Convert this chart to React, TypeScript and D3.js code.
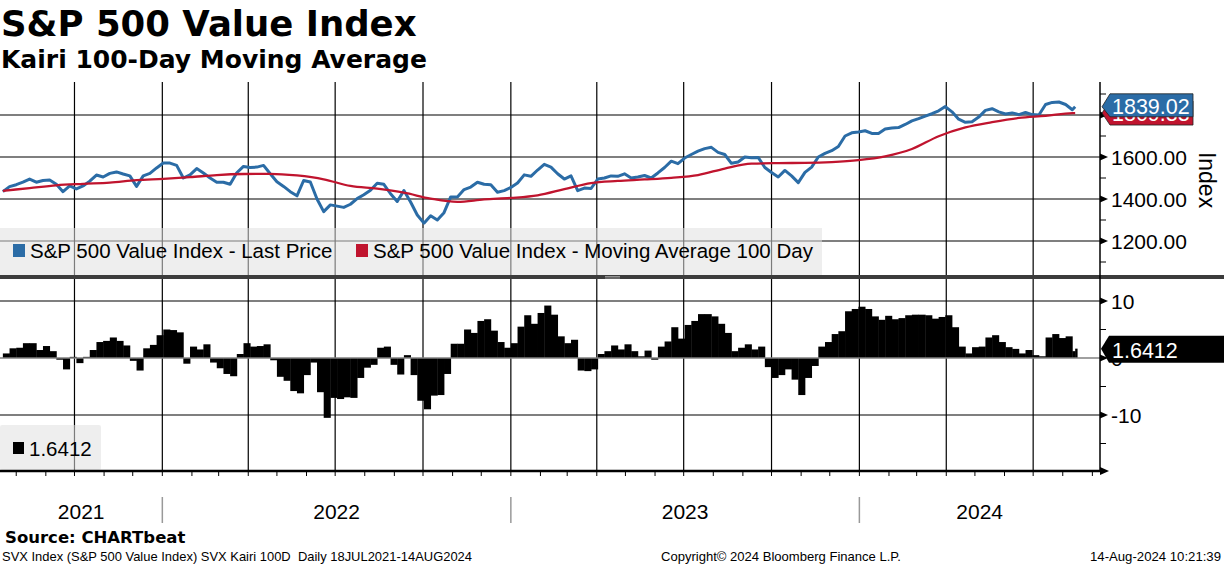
import * as d3 from 'd3';

// weekly samples starting 18 Jul 2021, plus the last print on 14 Aug 2024
const startDate = new Date(2021, 6, 18);
const lastDate = new Date(2024, 7, 14);

const priceWeekly = [
  1435, 1459, 1468, 1480, 1495, 1480, 1488, 1490, 1470, 1435,
  1462, 1448, 1462, 1485, 1514, 1505, 1522, 1529, 1519, 1510,
  1460, 1510, 1522, 1548, 1571, 1571, 1560, 1500, 1515, 1545,
  1524, 1500, 1480, 1480, 1470, 1525, 1555, 1550, 1552, 1560,
  1520, 1482, 1460, 1435, 1415, 1488, 1481, 1400, 1340, 1372,
  1366, 1360, 1375, 1402, 1420, 1442, 1475, 1470, 1425, 1388,
  1440, 1386, 1324, 1285, 1320, 1300, 1335, 1410, 1410, 1445,
  1457, 1480, 1470, 1468, 1432, 1440, 1455, 1476, 1515, 1508,
  1538, 1565, 1552, 1520, 1495, 1510, 1440, 1452, 1450, 1495,
  1500, 1510, 1508, 1520, 1500, 1505, 1512, 1500, 1524, 1550,
  1580, 1568, 1595, 1612, 1628, 1640, 1646, 1622, 1612, 1570,
  1576, 1600, 1596, 1598, 1550, 1526, 1505, 1536, 1510, 1478,
  1527, 1552, 1600, 1617, 1630, 1650, 1700, 1715, 1719, 1725,
  1712, 1712, 1733, 1738, 1740, 1755, 1772, 1783, 1795, 1806,
  1820, 1840, 1815, 1780, 1765, 1768, 1790, 1822, 1830, 1815,
  1805, 1810, 1802, 1812, 1802, 1800, 1850, 1860, 1862, 1850,
  1825,
];

// moving average, one value every 4 weeks
const ma4Weekly = [
  1439, 1452, 1465, 1472, 1478, 1490, 1496, 1504, 1514, 1519,
  1520, 1512, 1494, 1462, 1449, 1430, 1402, 1386, 1398, 1405,
  1417, 1447, 1476, 1486, 1493, 1501, 1514, 1545, 1568, 1571,
  1572, 1576, 1585, 1603, 1638, 1699, 1741, 1766, 1786, 1796,
  1809,
];

const kairiWeekly = [
  0.8, 1.7, 1.8, 2.6, 2.6, 1.4, 2.1, 1.2, -0.3, -2.0,
  0.2, -0.9, 0.2, 1.4, 2.8, 3.0, 3.6, 3.0, 2.2, -0.5,
  -2.2, 1.7, 2.3, 4.0, 5.0, 4.9, 4.5, -1.0, 2.0, 1.5,
  2.4, -0.8, -1.8, -2.8, -3.2, 0.7, 2.6, 2.0, 2.1, 2.4,
  -0.4, -3.3, -4.0, -5.8, -6.2, -3.0, -0.8, -6.0, -10.5, -7.0,
  -7.2, -6.9, -7.0, -3.5, -1.7, -1.2, 1.8, 2.0, -1.2, -2.9,
  0.5, -3.0, -7.5, -9.0, -6.6, -6.5, -2.8, 2.5, 2.5, 5.0,
  4.4, 6.5, 6.8, 4.8, 2.8, 1.8, 2.6, 5.5, 7.5, 6.0,
  7.9, 9.2, 7.6, 3.8, 2.6, 3.2, -2.2, -2.3, -2.0, 0.7,
  1.2, 2.2, 1.5, 2.4, 1.2, 0.3, 1.3, -0.3, 2.0, 2.9,
  5.4, 3.4, 5.8, 6.5, 7.7, 7.7, 7.3, 6.0, 4.4, 1.2,
  1.8, 2.4, 1.5, 2.0, -1.6, -3.5, -3.0, -2.0, -3.8, -6.5,
  -3.5, -1.4, 2.0, 2.8, 4.2, 4.7, 8.2, 8.6, 9.0, 8.6,
  7.3, 6.7, 7.4, 6.8, 7.0, 7.5, 7.6, 7.6, 7.5, 6.9,
  7.2, 7.5, 5.4, 2.0, 0.8, 1.9, 2.0, 3.6, 4.0, 2.8,
  1.9, 1.6, 0.8, 1.4, 0.5, 0.3, 3.6, 4.2, 3.5, 3.8,
  1.2,
];

const lastPrice = 1839.02;
const lastMa = 1809.33;
const lastKairi = 1.6412;

const priceTicks = [1200, 1400, 1600, 1800];
const priceMinor = [1100, 1300, 1500, 1700, 1900];
const kairiTicks = [-10, 0, 10];
const kairiMinor = [-15, -5, 5];
const years = [2021, 2022, 2023, 2024];

const BLUE = '#2b6ca6';
const RED = '#c0142e';
const FONT = '"Liberation Sans", Arial, sans-serif';
const BOLD = '"DejaVu Sans", Verdana, sans-serif';

const W = 1224;
const H = 566;
const right = 1100;
const topY0 = 82;
const topY1 = 275;
const botY0 = 279;
const botY1 = 471;

const weekDate = (i: number) => d3.timeDay.offset(startDate, 7 * i);

export default function App() {
  const x = d3.scaleTime()
    .domain([new Date(2021, 6, 15), new Date(2024, 8, 9)])
    .range([0, right]);
  const yPrice = d3.scaleLinear().domain([1200, 1800]).range([241, 115]);
  const yKairi = d3.scaleLinear().domain([-10, 10]).range([415, 301]);

  const price = priceWeekly.map((v, i) => ({ date: weekDate(i), value: v }))
    .concat([{ date: lastDate, value: lastPrice }]);
  const ma = ma4Weekly.map((v, i) => ({ date: weekDate(i * 4), value: v }))
    .concat([{ date: lastDate, value: lastMa }]);
  const kairi = kairiWeekly.map((v, i) => ({ date: weekDate(i), value: v }))
    .concat([{ date: lastDate, value: lastKairi }]);

  const priceLine = d3.line<{ date: Date; value: number }>()
    .x(d => x(d.date))
    .y(d => yPrice(d.value));
  const maLine = d3.line<{ date: Date; value: number }>()
    .x(d => x(d.date))
    .y(d => yPrice(d.value))
    .curve(d3.curveMonotoneX);

  const quarters = d3.timeMonth.every(3)!.range(x.domain()[0], x.domain()[1]);
  const months = d3.timeMonth.range(x.domain()[0], x.domain()[1]);
  const yearStarts = years.slice(1).map(y => new Date(y, 0, 1));

  const yv = yPrice(lastPrice);
  const ym = yPrice(lastMa);
  const yk = yKairi(lastKairi);

  return (
    <svg width={W} height={H} style={{ display: 'block', background: '#fff' }}>
      <style>{'body{margin:0}'}</style>

      {/* titles */}
      <text x={1} y={36} fontFamily={BOLD} fontWeight="bold" fontSize={35.5}>S&amp;P 500 Value Index</text>
      <text x={1} y={68} fontFamily={BOLD} fontWeight="bold" fontSize={25}>Kairi 100-Day Moving Average</text>

      {/* top panel grid */}
      {priceTicks.map(t => (
        <line key={'hp' + t} x1={0} x2={right} y1={yPrice(t)} y2={yPrice(t)} stroke="#000" strokeWidth={1.2} />
      ))}
      {quarters.map(q => (
        <line key={'vq' + +q} x1={x(q)} x2={x(q)} y1={topY0} y2={topY1} stroke="#000" strokeWidth={1.2} />
      ))}

      {/* price + MA */}
      <path d={priceLine(price)!} fill="none" stroke={BLUE} strokeWidth={3} strokeLinejoin="round" />
      <path d={maLine(ma)!} fill="none" stroke={RED} strokeWidth={2.3} />

      {/* top legend */}
      <rect x={0} y={228} width={822} height={47} fill="#e0e0e0" opacity={0.55} />
      <rect x={13} y={244} width={12} height={13} fill={BLUE} />
      <text x={30} y={258} fontFamily={FONT} fontSize={20.5}>S&amp;P 500 Value Index - Last Price</text>
      <rect x={356} y={244} width={12} height={13} fill={RED} />
      <text x={373} y={258} fontFamily={FONT} fontSize={20.5}>S&amp;P 500 Value Index - Moving Average 100 Day</text>

      {/* separator */}
      <rect x={0} y={topY1} width={W} height={botY0 - topY1} fill="#3c3c3c" />
      <line x1={605} x2={620} y1={276.5} y2={276.5} stroke="#aaa" strokeWidth={0.8} />
      <line x1={605} x2={620} y1={278} y2={278} stroke="#aaa" strokeWidth={0.8} />

      {/* bottom panel grid */}
      {kairiTicks.filter(t => t !== 0).map(t => (
        <line key={'hk' + t} x1={0} x2={right} y1={yKairi(t)} y2={yKairi(t)} stroke="#000" strokeWidth={1.2} />
      ))}
      {quarters.map(q => (
        <line key={'vb' + +q} x1={x(q)} x2={x(q)} y1={botY0} y2={botY1} stroke="#000" strokeWidth={1.2} />
      ))}

      {/* kairi histogram */}
      {kairi.map((d, i) => {
        const x0 = x(d.date);
        const x1 = i < kairi.length - 1 ? x(kairi[i + 1].date) : x0 + 2;
        const y0 = yKairi(Math.max(0, d.value));
        const y1 = yKairi(Math.min(0, d.value));
        return <rect key={'k' + i} x={x0} y={y0} width={x1 - x0 + 0.4} height={y1 - y0} fill="#000" />;
      })}
      <line x1={0} x2={right} y1={yKairi(0)} y2={yKairi(0)} stroke="#808080" strokeWidth={1.5} />

      {/* bottom legend */}
      <rect x={0} y={425} width={101} height={45} rx={2} fill="#e0e0e0" opacity={0.55} />
      <rect x={13} y={442} width={11} height={12} fill="#000" />
      <text x={29} y={456} fontFamily={FONT} fontSize={20.5}>{lastKairi.toFixed(4)}</text>

      {/* x axis */}
      <line x1={0} x2={right} y1={botY1} y2={botY1} stroke="#000" strokeWidth={2.5} />
      {months.map(m => (
        <line key={'m' + +m} x1={x(m)} x2={x(m)} y1={botY1} y2={botY1 + 5} stroke="#000" strokeWidth={1} />
      ))}
      <path d={`M${right},${botY1 - 4}L${right + 9},${botY1}L${right},${botY1 + 4}Z`} fill="#000" />
      {yearStarts.map(d => (
        <line key={'ys' + +d} x1={x(d)} x2={x(d)} y1={497} y2={523} stroke="#999" strokeWidth={1.5} />
      ))}
      {years.map(yr => {
        const a = Math.max(0, x(new Date(yr, 0, 1)));
        const b = Math.min(right, x(new Date(yr + 1, 0, 1)));
        return (
          <text key={'y' + yr} x={(a + b) / 2} y={519} textAnchor="middle" fontFamily={FONT} fontSize={21}>{yr}</text>
        );
      })}

      {/* right axis */}
      <line x1={right} x2={right} y1={topY0} y2={botY1} stroke="#000" strokeWidth={1.5} />
      {priceMinor.map(t => (
        <line key={'pm' + t} x1={right} x2={right + 6} y1={yPrice(t)} y2={yPrice(t)} stroke="#000" strokeWidth={1} />
      ))}
      {kairiMinor.map(t => (
        <line key={'km' + t} x1={right} x2={right + 6} y1={yKairi(t)} y2={yKairi(t)} stroke="#000" strokeWidth={1} />
      ))}
      {priceTicks.map(t => (
        <g key={'pt' + t}>
          <path d={`M${right},${yPrice(t) - 3.5}L${right + 8},${yPrice(t)}L${right},${yPrice(t) + 3.5}Z`} fill="#000" />
          <text x={1111} y={yPrice(t) + 8} fontFamily={FONT} fontSize={21}>{t.toFixed(2)}</text>
        </g>
      ))}
      {kairiTicks.map(t => (
        <g key={'kt' + t}>
          <path d={`M${right},${yKairi(t) - 3.5}L${right + 8},${yKairi(t)}L${right},${yKairi(t) + 3.5}Z`} fill="#000" />
          <text x={1111} y={yKairi(t) + 8} fontFamily={FONT} fontSize={21}>{t}</text>
        </g>
      ))}
      <text transform="translate(1199,180) rotate(90)" textAnchor="middle" fontFamily={FONT} fontSize={23}>Index</text>

      {/* last value labels */}
      <path d={`M1102,${ym}L1110,${ym - 12}L1193,${ym - 12}L1193,${ym + 12}L1110,${ym + 12}Z`} fill={RED} stroke="#222" strokeWidth={0.8} />
      <text x={1112} y={ym + 8} fill="#fff" fontFamily={FONT} fontSize={21.5}>{lastMa.toFixed(2)}</text>
      <path d={`M1102,${yv}L1110,${yv - 13}L1193,${yv - 13}L1193,${yv + 10}L1110,${yv + 10}Z`} fill={BLUE} stroke="#222" strokeWidth={0.8} />
      <text x={1112} y={yv + 7} fill="#fff" fontFamily={FONT} fontSize={21.5}>{lastPrice.toFixed(2)}</text>

      <path d={`M1101,${yk}L1109,${yk - 13}L1224,${yk - 13}L1224,${yk + 14}L1109,${yk + 14}Z`} fill="#000" />
      <text x={1112} y={yk + 9} fill="#fff" fontFamily={FONT} fontSize={21.5}>{lastKairi.toFixed(4)}</text>

      {/* footer */}
      <text x={5} y={543} fontFamily={BOLD} fontWeight="bold" fontSize={16.5}>Source: CHARTbeat</text>
      <text x={2} y={561} fontFamily={FONT} fontSize={13} textLength={470} lengthAdjust="spacingAndGlyphs" style={{ whiteSpace: 'pre' }}>
        {'SVX Index (S&P 500 Value Index) SVX Kairi 100D  Daily 18JUL2021-14AUG2024'}
      </text>
      <text x={661} y={561} fontFamily={FONT} fontSize={13} textLength={240} lengthAdjust="spacingAndGlyphs">Copyright© 2024 Bloomberg Finance L.P.</text>
      <text x={1090} y={561} fontFamily={FONT} fontSize={13} textLength={131} lengthAdjust="spacingAndGlyphs">14-Aug-2024 10:21:39</text>
    </svg>
  );
}
